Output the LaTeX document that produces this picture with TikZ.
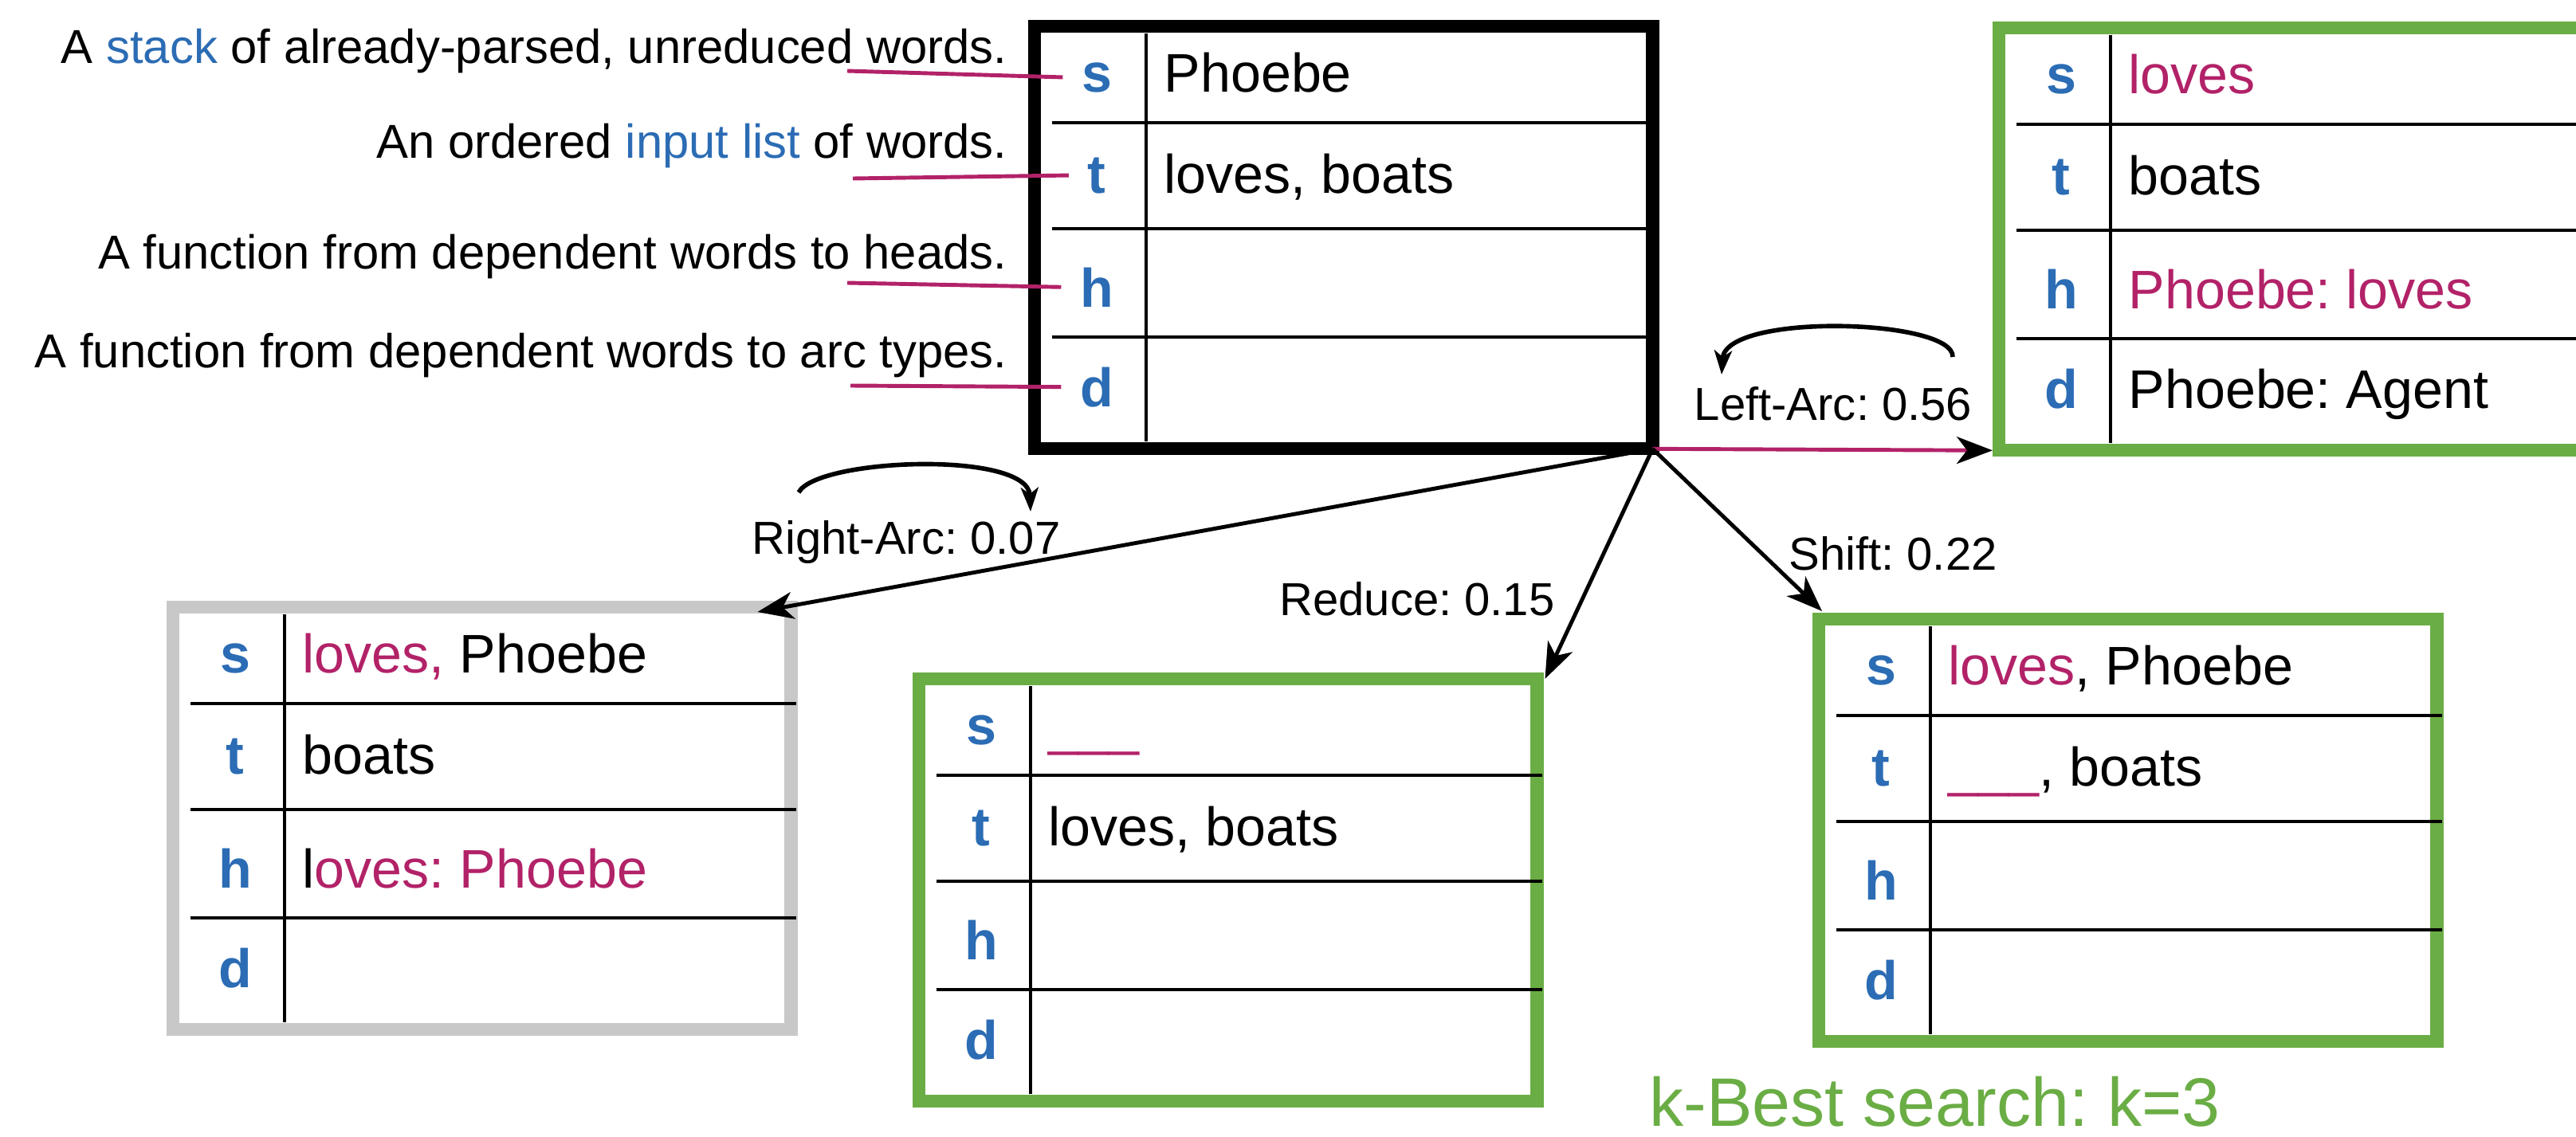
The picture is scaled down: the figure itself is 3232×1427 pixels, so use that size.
\documentclass[tikz,border=0pt]{standalone}
\usepackage{fontspec}
\setmainfont{Liberation Sans}
\usetikzlibrary{arrows.meta}
\frenchspacing
\definecolor{lblue}{RGB}{43,108,180}
\definecolor{mag}{RGB}{178,34,104}
\definecolor{kgreen}{RGB}{106,173,69}
\definecolor{lgray}{RGB}{200,200,200}
\newcommand\mg[1]{\textcolor{mag}{#1}}
\newcommand\bl[1]{\textcolor{lblue}{#1}}
\tikzset{
  statebox/.style={draw, line width=4.6pt, minimum width=7.75cm, minimum height=5.3cm, inner sep=0pt, outer sep=0pt, anchor=north west},
  rowline/.style={line width=1.4pt, black},
  divline/.style={line width=1pt, black},
  slabel/.style={font=\fontsize{19.4}{22}\selectfont\bfseries, text=lblue, inner sep=0pt, anchor=base},
  scontent/.style={font=\fontsize{19.4}{22}\selectfont, inner sep=0pt, anchor=base west},
  annot/.style={font=\fontsize{17}{20}\selectfont, inner sep=0pt, anchor=base east},
  elabel/.style={font=\fontsize{16.5}{19}\selectfont, inner sep=0pt, anchor=base},
  trans/.style={line width=1.4pt, -{Stealth[length=0.45cm, width=0.34cm, inset=0.13cm]}},
  looparrow/.style={line width=1.6pt, -{Stealth[length=0.3cm, width=0.22cm, inset=0.08cm]}},
  pointer/.style={line width=1.4pt, mag},
}
\newcommand\drawstate[8]{%
  \node[statebox, draw=#4] (#1) at (#2,#3) {};
  \begin{scope}[shift={(#1.north west)}]
    \draw[divline] (140,9) -- (140,521);
    \draw[rowline] (22,121) -- (782,121);
    \draw[rowline] (22,254) -- (782,254);
    \draw[rowline] (22,390) -- (782,390);
    \node[slabel] (#1-s) at (78,82) {s};
    \node[slabel] (#1-t) at (78,209) {t};
    \node[slabel] (#1-h) at (78,352) {h};
    \node[slabel] (#1-d) at (78,477) {d};
    \node[scontent] (#1-sv) at (162,82) {#5};
    \node[scontent] (#1-tv) at (162,209) {#6};
    \node[scontent] (#1-hv) at (162,352) {#7};
    \node[scontent] (#1-dv) at (162,477) {#8};
  \end{scope}}
\begin{document}
\begin{tikzpicture}[x=0.01cm, y=-0.01cm]
\useasboundingbox (0,0) rectangle (3232,1427);

% state boxes
\drawstate{main}{1298}{33}{black}{Phoebe}{loves, boats}{}{}
\drawstate{lefta}{2508}{35}{kgreen}{\mg{loves}}{boats}{\mg{Phoebe: loves}}{Phoebe: Agent}
\drawstate{gray}{217}{762}{lgray}{\mg{loves,} Phoebe}{boats}{l\mg{oves: Phoebe}}{}
\drawstate{reduce}{1153}{852}{kgreen}{\mg{\_\_\_}}{loves, boats}{}{}
\drawstate{shift}{2282}{777}{kgreen}{\mg{loves}, Phoebe}{\mg{\_\_\_}, boats}{}{}

% annotations
\node[annot] (an-s) at (1264,79) {A \bl{stack} of already-parsed, unreduced words.};
\node[annot] (an-t) at (1264,198) {An ordered \bl{input list} of words.};
\node[annot] (an-h) at (1264,337) {A function from dependent words to heads.};
\node[annot] (an-d) at (1264,461) {A function from dependent words to arc types.};
\coordinate (ps) at (1063,89);
\coordinate (pt) at (1070,224);
\coordinate (ph) at (1063,355);
\coordinate (pd) at (1067,484);
\draw[pointer] (ps) -- ([xshift=-0.23cm]main-s.west);
\draw[pointer] (pt) -- ([xshift=-0.23cm]main-t.west);
\draw[pointer] (ph) -- ([xshift=-0.23cm]main-h.west);
\draw[pointer] (pd) -- ([xshift=-0.23cm]main-d.west);

% transitions
\draw[pointer, -{Stealth[length=0.45cm, width=0.34cm, inset=0.13cm, color=black]}] (main.south east) -- ([xshift=-0.08cm]lefta.south west);
\draw[trans] (main.south east) -- ([xshift=-0.42cm, yshift=-0.06cm]gray.north east);
\draw[trans] (main.south east) -- ([xshift=0.1cm]reduce.north east);
\draw[trans] (main.south east) -- ([xshift=0.04cm, yshift=0.1cm]shift.north west);

% edge labels
\node[elabel] (lab-la) at (2300,527) {Left-Arc: 0.56};
\node[elabel] (lab-ra) at (1137,695) {Right-Arc: 0.07};
\node[elabel] (lab-re) at (1778,772) {Reduce: 0.15};
\node[elabel] (lab-sh) at (2375,715) {Shift: 0.22};

% loop arrows
\coordinate (ra1) at (1002,618);
\coordinate (ra2) at (1293,642);
\draw[looparrow] (ra1) .. controls (1025,575) and (1290,565) .. (ra2);
\coordinate (la1) at (2450,448);
\coordinate (la2) at (2160,470);
\draw[looparrow] (la1) .. controls (2452,400) and (2165,392) .. (la2);

% k-best
\node[font=\fontsize{24.5}{28}\selectfont, text=kgreen, anchor=base west, inner sep=0pt] (kbest) at (2069,1413) {k-Best search: k=3};
\end{tikzpicture}
\end{document}
